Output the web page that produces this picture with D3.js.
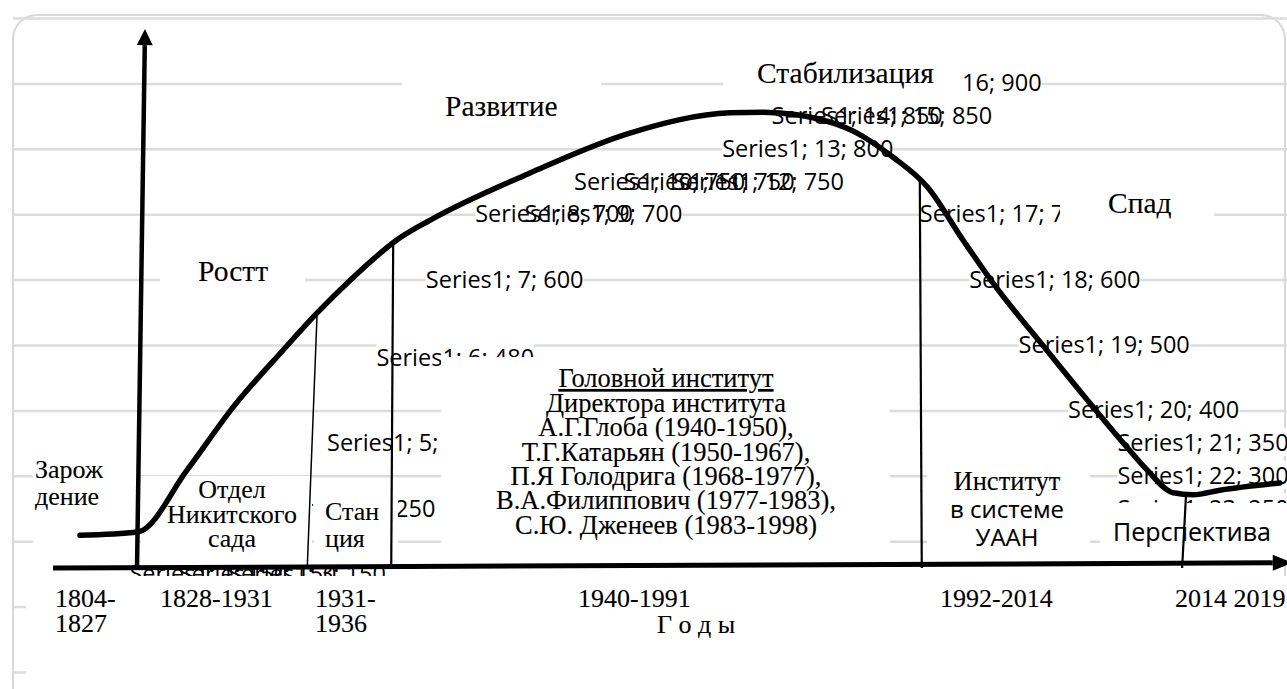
<!DOCTYPE html>
<html>
<head>
<meta charset="utf-8">
<script src="https://cdn.jsdelivr.net/npm/d3@7"></script>
<style>
  body { margin: 0; background: #fff; }
  svg { display: block; }
  .serif { font-family: "Liberation Serif", "Times New Roman", serif; }
  .sans { font-family: "Open Sans", "Noto Sans", sans-serif; }
</style>
</head>
<body>
<div id="chart_div"></div>
<script>
//------------------------------DATA-------------------------------//
// Excel data labels of the hidden series: category number and value
const labelIdx = [1, 2, 3, 4, 5, 6, 7, 8, 9, 10, 11, 12, 13, 14, 15, 16, 17, 18, 19, 20, 21, 22, 23];
const labelVal = [150, 150, 150, 250, 350, 480, 600, 700, 700, 750, 750, 750, 800, 850, 850, 900, 700, 600, 500, 400, 350, 300, 250];

// the hand drawn life-cycle curve (category units / value units)
const curveX = [0, 1.17, 2.17, 3.10, 4.11, 4.80, 5.47, 6.42, 7.09, 9.11, 11.13, 13.16, 13.83, 14.51, 15.73, 16.46, 17.15, 17.87, 18.48, 19.57, 20.51, 21.19, 21.60, 22.13, 22.53, 23.08, 24.29];
const curveV = [209, 214, 309, 405, 492, 549, 599, 661, 691, 763, 824, 855, 856, 852, 824, 787, 742, 661, 595, 492, 405, 344, 309, 274, 271, 278, 289];

// era boundaries (where the divider meets the axis / the curve)
const dividerFoot = [4.60, 6.30, 17.04, 22.31];
const dividerHead = [4.80, 6.34, 17.00, 22.39];

const gridValues = d3.range(0, 1001, 100);

const stages = ["Зарождение", "Ростт", "Развитие", "Стабилизация", "Спад"];
const forms = ["Отдел Никитского сада", "Станция", "Головной институт", "Институт в системе УААН", "Перспектива"];
const directors = ["А.Г.Глоба (1940-1950),", "Т.Г.Катарьян (1950-1967),", "П.Я Голодрига (1968-1977),",
                   "В.А.Филиппович (1977-1983),", "С.Ю. Дженеев (1983-1998)"];
const periods = ["1804-1827", "1828-1931", "1931-1936", "1940-1991", "1992-2014", "2014 2019"];
const axisTitle = "Г о д ы";

//-----------------------------SVG-------------------------------//
const width = 1287;
const height = 689;

const svg = d3.select("#chart_div").append("svg")
  .attr("width", width)
  .attr("height", height);

//----------------------------SCALES-----------------------------//
const x = d3.scaleLinear().domain([0, 24]).range([80, 80 + 49.4 * 24]);
const y = d3.scaleLinear().domain([0, 1000]).range([672, 18]);
const curveAt = d3.scaleLinear().domain(curveX).range(curveV);

// frame of the chart area
svg.append("rect")
  .attr("x", 13).attr("y", 15)
  .attr("width", 1272).attr("height", 700)
  .attr("rx", 24)
  .attr("fill", "none")
  .attr("stroke", "#d9d9d9")
  .attr("stroke-width", 2);

//-----------------------------GRID------------------------------//
const grid = svg.append("g")
  .attr("transform", "translate(13,0)")
  .call(d3.axisRight(y).tickValues(gridValues).tickSize(width - 13).tickFormat(""));
grid.select(".domain").remove();
grid.selectAll("line").attr("stroke", "#dcdcdc").attr("stroke-width", 2.5);

//--------------------------DATA LABELS--------------------------//
// Excel pushed the last labels back inside the plot
const labels = labelIdx.map((n, i) => ({ n: n, v: labelVal[i] }));
const bgG = svg.append("g");
const txtG = svg.append("g").attr("class", "sans");
txtG.selectAll("text")
  .data(labels)
  .enter()
  .append("text")
  .attr("x", d => x(Math.min(d.n, 21)))
  .attr("y", d => y(d.v) + 8)
  .attr("font-size", 23.5)
  .attr("fill", "#000")
  .text(d => "Series1; " + d.n + "; " + d.v)
  .each(function () {
    const b = this.getBBox();
    bgG.append("rect")
      .attr("x", b.x).attr("y", b.y + 2)
      .attr("width", b.width).attr("height", b.height - 4)
      .attr("fill", "#fff");
  });

//-------------------------TEXT BOXES----------------------------//
function box(x0, y0, x1, y1) {
  svg.append("rect")
    .attr("x", x0).attr("y", y0)
    .attr("width", x1 - x0).attr("height", y1 - y0)
    .attr("fill", "#fff");
}
function lines(list, x0, y0, lh, anchor, cls, size) {
  const t = svg.append("text")
    .attr("class", cls)
    .attr("font-size", size)
    .attr("text-anchor", anchor)
    .attr("fill", "#000")
    .attr("stroke", "#000")
    .attr("stroke-width", 0.12);
  list.forEach((s, i) => {
    t.append("tspan").attr("x", x0).attr("y", y0 + i * lh).text(s);
  });
  return t;
}

box(33, 452, 136, 548);
lines([stages[0].slice(0, 5), stages[0].slice(5)], 35, 478, 27, "start", "serif", 26);

box(141, 476, 312, 562);
lines(["Отдел", "Никитского", "сада"], 232, 498, 24.5, "middle", "serif", 26);

box(314, 488, 398, 562);
lines(["Стан", "ция"], 325, 520, 27, "start", "serif", 26);

box(160, 256, 305, 300);
lines([stages[1]], 198, 281, 0, "start", "serif", 29.5);

box(402, 72, 601, 125);
lines([stages[2]], 445, 116, 0, "start", "serif", 29.5);

box(723, 50, 962, 100);
lines([stages[3]], 757, 83, 0, "start", "serif", 29.5);

box(1060, 182, 1214, 228);
lines([stages[4]], 1108, 213, 0, "start", "serif", 29.5);

box(441, 357, 890, 548);
lines([forms[2]], 666, 387, 0, "middle", "serif", 26.5).attr("text-decoration", "underline");
lines(["Директора института"].concat(directors), 666, 412, 24.3, "middle", "serif", 26.5);

box(927, 460, 1090, 562);
lines(["Институт"], 1007, 490, 0, "middle", "serif", 26.5);
lines(["в системе", "УААН"], 1007, 518, 28, "middle", "sans", 24);

box(1100, 503, width, 562);
lines([forms[4]], 1113, 541, 0, "start", "sans", 25);

// year labels under the axis
box(26, 576, width, height);
lines(["1804-", "1827"], 55, 607, 25, "start", "serif", 26);
lines([periods[1]], 160, 607, 0, "start", "serif", 26);
lines(["1931-", "1936"], 315, 607, 25, "start", "serif", 26);
lines([periods[3]], 578, 607, 0, "start", "serif", 26);
lines([axisTitle], 657, 633, 0, "start", "serif", 26);
lines([periods[4]], 940, 607, 0, "start", "serif", 26);
lines([periods[5]], 1175, 607, 0, "start", "serif", 26);

//-----------------------------CURVE-----------------------------//
const line = d3.line()
  .x(d => x(d[0]))
  .y(d => y(d[1]))
  .curve(d3.curveMonotoneX);

svg.append("path")
  .attr("d", line(curveX.map((c, i) => [c, curveV[i]])))
  .attr("fill", "none")
  .attr("stroke", "#000")
  .attr("stroke-width", 5.5)
  .attr("stroke-linecap", "round");

//---------------------------DIVIDERS----------------------------//
const AXIS_V = 159;
svg.append("g")
  .selectAll("line")
  .data(dividerFoot)
  .enter()
  .append("line")
  .attr("x1", d => x(d))
  .attr("y1", y(AXIS_V))
  .attr("x2", (d, i) => x(dividerHead[i]))
  .attr("y2", (d, i) => y(curveAt(dividerHead[i])))
  .attr("stroke", "#000")
  .attr("stroke-width", (d, i) => i === 0 ? 1.5 : 2.2);

//-----------------------------AXES------------------------------//
function arrow(i1, v1, i2, v2, w, len, half) {
  const x1 = x(i1), y1 = y(v1), x2 = x(i2), y2 = y(v2);
  const a = Math.atan2(y2 - y1, x2 - x1);
  const bx = x2 - len * Math.cos(a), by = y2 - len * Math.sin(a);
  svg.append("line")
    .attr("x1", x1).attr("y1", y1).attr("x2", bx).attr("y2", by)
    .attr("stroke", "#000").attr("stroke-width", w);
  const px = -Math.sin(a) * half, py = Math.cos(a) * half;
  svg.append("polygon")
    .attr("points", [[x2, y2], [bx + px, by + py], [bx - px, by - py]].map(p => p.join(",")).join(" "))
    .attr("fill", "#000");
}
arrow(1.154, AXIS_V, 1.316, 983, 4.5, 16, 8);
arrow(-0.547, AXIS_V, 24.55, 167, 5, 20, 8);
</script>
</body>
</html>
